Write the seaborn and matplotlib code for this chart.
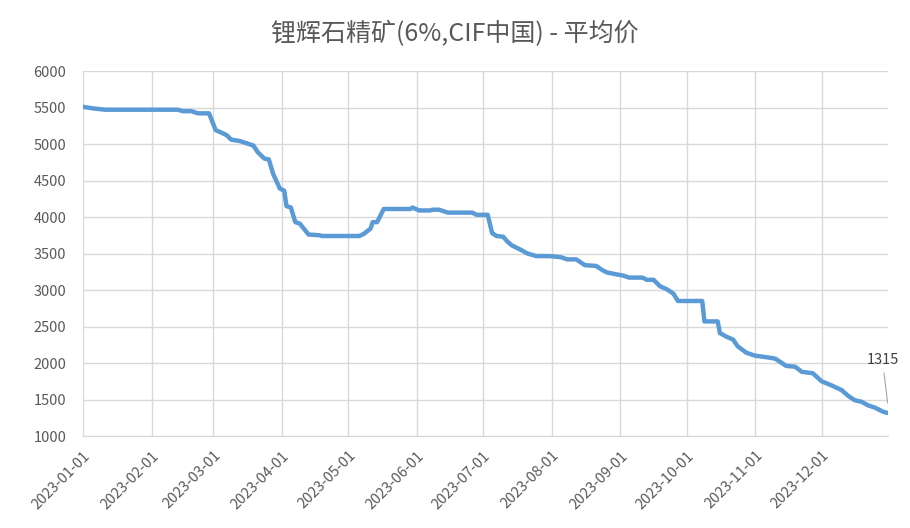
import matplotlib
matplotlib.use("Agg")
import matplotlib.pyplot as plt
import matplotlib.dates as mdates
import pandas as pd
import seaborn as sns

# change points of the average price (USD/t)
dates = [
    "2023-01-01", "2023-01-05", "2023-01-11", "2023-02-13", "2023-02-15", "2023-02-19",
    "2023-02-22", "2023-02-27", "2023-03-02", "2023-03-05", "2023-03-07", "2023-03-09",
    "2023-03-13", "2023-03-18", "2023-03-19", "2023-03-21", "2023-03-24", "2023-03-26",
    "2023-03-28", "2023-03-31", "2023-04-02", "2023-04-03", "2023-04-05", "2023-04-07",
    "2023-04-09", "2023-04-13", "2023-04-18", "2023-04-19", "2023-05-06", "2023-05-08",
    "2023-05-11", "2023-05-12", "2023-05-14", "2023-05-17", "2023-05-29", "2023-05-30",
    "2023-06-02", "2023-06-07", "2023-06-08", "2023-06-11", "2023-06-13", "2023-06-15",
    "2023-06-26", "2023-06-28", "2023-07-03", "2023-07-05", "2023-07-07", "2023-07-10",
    "2023-07-12", "2023-07-14", "2023-07-18", "2023-07-21", "2023-07-25", "2023-07-31",
    "2023-08-05", "2023-08-08", "2023-08-12", "2023-08-16", "2023-08-21", "2023-08-24",
    "2023-08-26", "2023-08-31", "2023-09-02", "2023-09-05", "2023-09-11", "2023-09-13",
    "2023-09-16", "2023-09-19", "2023-09-22", "2023-09-25", "2023-09-27", "2023-10-08",
    "2023-10-09", "2023-10-15", "2023-10-16", "2023-10-19", "2023-10-22", "2023-10-24",
    "2023-10-28", "2023-11-01", "2023-11-06", "2023-11-10", "2023-11-15", "2023-11-19",
    "2023-11-22", "2023-11-27", "2023-12-01", "2023-12-05", "2023-12-10", "2023-12-13",
    "2023-12-16", "2023-12-19", "2023-12-22", "2023-12-25", "2023-12-29", "2023-12-31",
]
prices = [
    5510, 5490, 5470, 5470, 5450, 5450,
    5420, 5420, 5190, 5150, 5120, 5060,
    5040, 4990, 4980, 4890, 4800, 4790,
    4590, 4390, 4360, 4150, 4130, 3930,
    3910, 3760, 3750, 3740, 3740, 3770,
    3840, 3930, 3930, 4110, 4110, 4130,
    4090, 4090, 4100, 4100, 4080, 4060,
    4060, 4030, 4030, 3780, 3740, 3730,
    3660, 3610, 3550, 3500, 3465, 3465,
    3450, 3420, 3420, 3340, 3330, 3270,
    3240, 3210, 3200, 3170, 3170, 3140,
    3140, 3050, 3010, 2950, 2850, 2850,
    2570, 2570, 2410, 2360, 2320, 2230,
    2140, 2100, 2080, 2060, 1960, 1950,
    1880, 1860, 1750, 1700, 1630, 1550,
    1490, 1470, 1420, 1390, 1330, 1315,
]
title = "锂辉石精矿(6%,CIF中国) - 平均价"
month_ticks = pd.date_range("2023-01-01", "2023-12-01", freq="MS")

df = pd.DataFrame({"date": pd.to_datetime(dates), "price": prices})

sns.set_style("white")
plt.rcParams["font.family"] = ["Noto Sans CJK SC", "DejaVu Sans"]

fig = plt.figure(figsize=(9.1, 5.28), dpi=100)
ax = fig.add_axes([0.0912, 0.1742, 0.8846, 0.6913])

sns.lineplot(data=df, x="date", y="price", ax=ax, color="#5B9BD5", linewidth=3.2)

ax.set_xlim(pd.Timestamp("2023-01-01"), pd.Timestamp("2023-12-31"))
ax.set_ylim(1000, 6000)
ax.set_yticks(range(1000, 6001, 500))
ax.set_xticks(month_ticks)
ax.xaxis.set_major_formatter(mdates.DateFormatter("%Y-%m-%d"))
for lbl in ax.get_xticklabels():
    lbl.set_rotation(45)
    lbl.set_ha("right")
    lbl.set_rotation_mode("anchor")

ax.grid(True, color="#D9D9D9", linewidth=1)
ax.set_axisbelow(True)
for side in ["top", "right", "left"]:
    ax.spines[side].set_visible(False)
ax.spines["bottom"].set_color("#D9D9D9")
ax.tick_params(axis="both", length=0, labelsize=10.5, colors="#595959")
ax.tick_params(axis="y", pad=12)
ax.tick_params(axis="x", pad=9)
ax.set_xlabel("")
ax.set_ylabel("")

ax.annotate(
    f"{prices[-1]}",
    xy=(df["date"].iloc[-1], prices[-1] + 100),
    xytext=(-4, 28), textcoords="offset points",
    ha="center", va="bottom", fontsize=10.5, color="#404040",
    arrowprops=dict(arrowstyle="-", color="#A6A6A6", linewidth=0.8),
)

fig.suptitle(title, y=0.96, fontsize=18, color="#595959")

fig.savefig("out.png", dpi=100)
